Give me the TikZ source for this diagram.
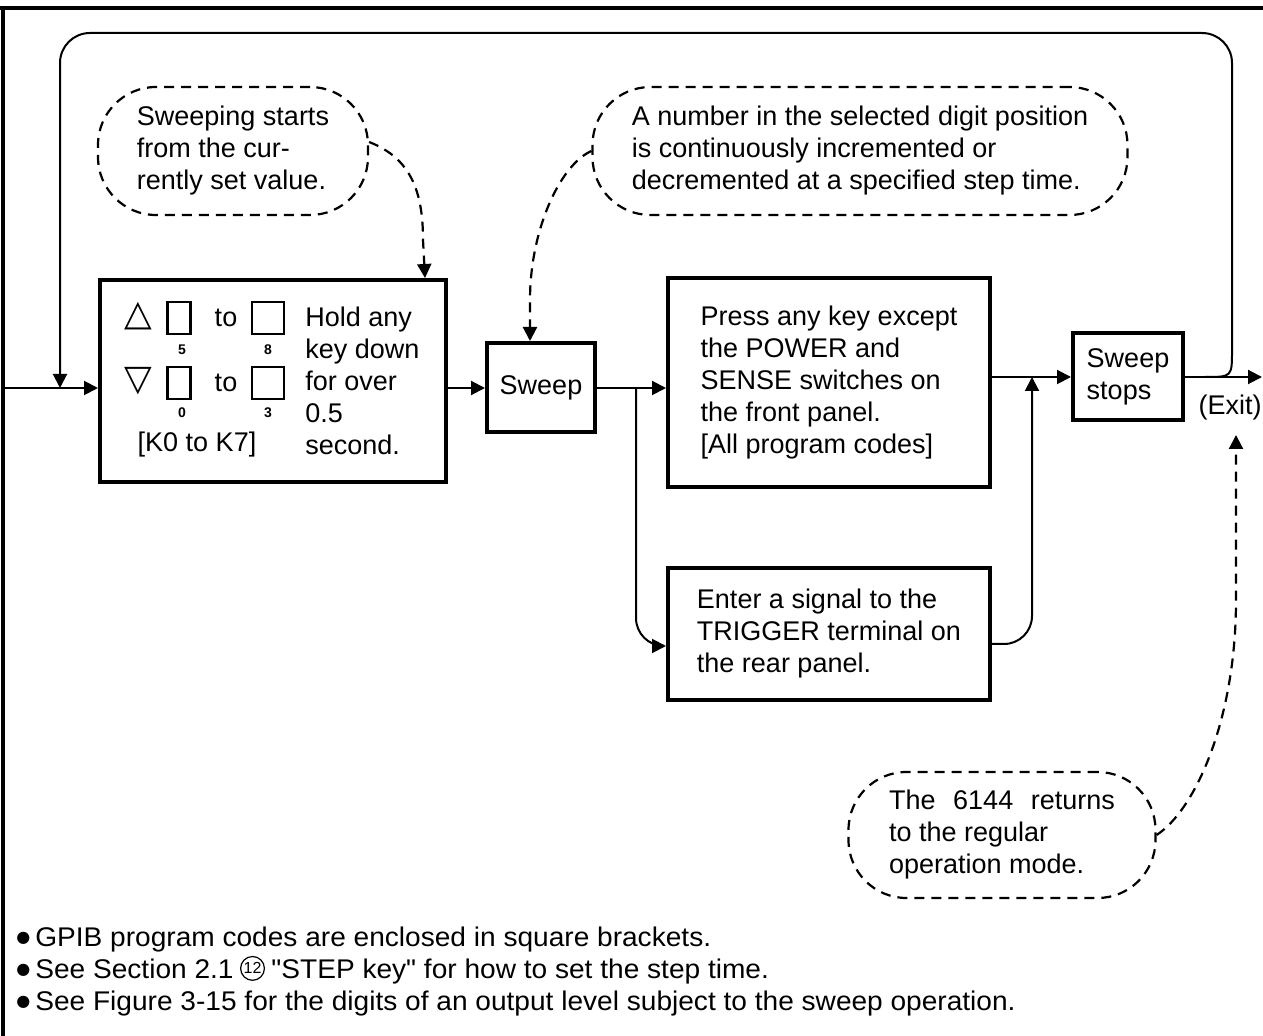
\documentclass[tikz,border=0pt]{standalone}
\usepackage{fontspec}
\setmainfont{Liberation Sans}
\newfontfamily\symfont{DejaVu Sans}
\newfontfamily\notefont[FakeStretch=1.04]{Liberation Sans}
\usetikzlibrary{arrows.meta}

\tikzset{
  box/.style={draw, line width=2pt, inner sep=0pt, align=left,
    font=\fontsize{13.5}{16}\selectfont},
  bubble/.style={draw, line width=1.1pt, dash pattern=on 5pt off 3.5pt,
    rounded corners=29pt, inner sep=0pt, align=left,
    font=\fontsize{13.5}{16}\selectfont},
  txt/.style={inner sep=0pt, align=left, font=\fontsize{13.5}{16}\selectfont},
  note/.style={inner sep=0pt, anchor=base west, font=\notefont\fontsize{13.5}{16}\selectfont},
  circnum/.style={draw, circle, line width=0.6pt, inner sep=0.5pt,
    minimum size=11.5pt, font=\fontsize{8}{8}\selectfont},
  keysq/.style={draw, line width=1.2pt, minimum height=16pt, inner sep=0pt},
  keynum/.style={inner sep=0pt, font=\fontsize{7}{8}\selectfont\bfseries},
  tri/.style={inner sep=0pt, font=\symfont\fontsize{18}{18}\selectfont},
  line/.style={line width=1pt},
  conn/.style={line width=1pt, -{Triangle[length=7pt,width=7pt]}},
  dconn/.style={line width=1.1pt, dash pattern=on 5pt off 3.5pt,
    -{Triangle[length=7pt,width=7pt]}},
}
\newcommand{\dotmark}{\raisebox{1.8pt}{\symfont\fontsize{8}{8}\selectfont ●}\hspace{2.5pt}}

\begin{document}
\begin{tikzpicture}[x=0.5pt, y=-0.5pt]
  \useasboundingbox (0,0) rectangle (1263,1036);
  % frame
  \draw[line width=2pt] (0,8) -- (1263,8);
  \draw[line width=2pt] (3,8) -- (3,1036);

  % callouts
  \node[bubble, minimum width=135pt, minimum height=64pt] (c1) at (233,151)
    {Sweeping starts\\from the cur-\\rently set value.};
  \node[bubble, minimum width=267.5pt, minimum height=64pt] (c2) at (860,151)
    {A number in the selected digit position\\is continuously incremented or\\decremented at a specified step time.};
  \node[bubble, minimum width=153.5pt, minimum height=63pt] (c3) at (1002,835)
    {\makebox[113pt][s]{The 6144 returns}\\to the regular\\operation mode.};

  % key box
  \node[box, minimum width=173pt, minimum height=101pt] (keys) at (273,381) {};
  \node[tri] (up) at (138,316) {△};
  \node[keysq, minimum width=11.5pt] (k5) at (179,318) {};
  \node[txt] (to1) at (226,318) {to};
  \node[keysq, minimum width=16pt] (k8) at (268,318) {};
  \node[keynum] (n5) at (182,350) {5};
  \node[keynum] (n8) at (268,350) {8};
  \node[tri] (dn) at (138,381) {▽};
  \node[keysq, minimum width=11.5pt] (k0) at (179,383) {};
  \node[txt] (to2) at (226,383) {to};
  \node[keysq, minimum width=16pt] (k3) at (268,383) {};
  \node[keynum] (n0) at (182,413) {0};
  \node[keynum] (n3) at (268,413) {3};
  \node[txt] (kcode) at (197,445) {[K0 to K7]};
  \node[txt, anchor=west] (hold) at (305,381)
    {Hold any\\key down\\for over\\0.5\\second.};

  % flow boxes
  \node[box, align=center, minimum width=54pt, minimum height=44.5pt] (sweep) at (541,387.5) {Sweep};
  \node[box, minimum width=161pt, minimum height=104.5pt] (press) at (829,382.5)
    {Press any key except\\the POWER and\\SENSE switches on\\the front panel.\\{[All program codes]}};
  \node[box, minimum width=161pt, minimum height=66pt] (trig) at (829,634)
    {Enter a signal to the\\TRIGGER terminal on\\the rear panel.};
  \node[box, minimum width=55pt, minimum height=43.5pt] (stops) at (1128,376.5)
    {Sweep\\stops};
  \node[txt, anchor=east] (exit) at (1262,408) {(Exit)};

  % connectors
  \coordinate (src) at (5,388);
  \coordinate (fb) at (60,388);
  \coordinate (br) at (636,388);
  \coordinate (jn) at (1032,377);
  \coordinate (ls) at (1205,377);
  \coordinate (ex) at (1262,377);
  \coordinate (xtip) at (1236,435);
  \draw[conn] (src) -- (keys.west |- src);
  \draw[conn] (keys.east |- src) -- (sweep.west |- src);
  \draw[conn] (sweep.east |- src) -- (press.west |- src);
  \draw[conn, rounded corners=14pt] (br) |- ([yshift=-6pt]trig.west);
  \draw[conn] (press.east |- jn) -- (stops.west |- jn);
  \draw[conn, rounded corners=14pt] ([yshift=-5pt]trig.east) -| (jn);
  \draw[conn] (stops.east |- ex) -- (ex);
  \draw[conn] (ls) .. controls (1232,377) .. (1232,350)
    [rounded corners=15pt] -- (1232,33) -- (60,33) -- (fb);

  % dashed pointers
  \draw[dconn] ([yshift=4.5pt]c1.east) .. controls (410,158) and (423,190) .. (423,240)
    -- ([xshift=-11.5pt]keys.north east);
  \draw[dconn] (c2.west) .. controls (560,165) and (530,230) .. (530,300)
    -- ([xshift=-5.5pt]sweep.north);
  \draw[dconn] (c3.east) .. controls (1195,810) and (1236,720) .. (1236,600) -- (xtip);

  % notes
  \node[note] (g1) at (16,946) {\dotmark GPIB program codes are enclosed in square brackets.};
  \node[note] (g2) at (16,978) {\dotmark See Section 2.1};
  \node[circnum, anchor=west] (s12) at ([xshift=3pt,yshift=4.8pt]g2.base east) {12};
  \node[note] (g2b) at ([xshift=3pt]s12.east |- g2.base east)
    {"STEP key" for how to set the step time.};
  \node[note] (g3) at (16,1010) {\dotmark See Figure 3-15 for the digits of an output level subject to the sweep operation.};
\end{tikzpicture}
\end{document}
